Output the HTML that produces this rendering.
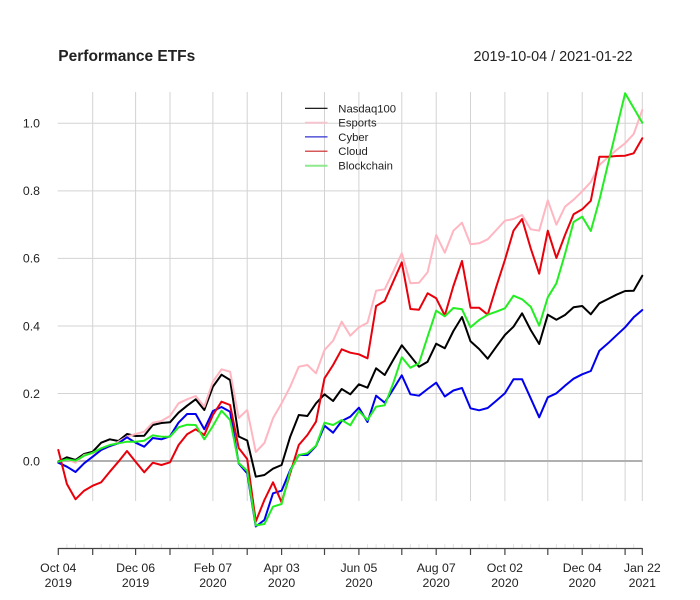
<!DOCTYPE html>
<html><head><meta charset="utf-8"><style>
html,body{margin:0;padding:0;background:#fff;}
svg{display:block;}
text{font-family:"Liberation Sans",Arial,sans-serif;fill:#222;}
</style></head><body>
<svg width="700" height="600" viewBox="0 0 700 600" xmlns="http://www.w3.org/2000/svg">
<rect width="700" height="600" fill="#fff"/>
<text x="58.3" y="61" font-size="15.5" font-weight="bold">Performance ETFs</text>
<text x="632.7" y="61" font-size="14.4" text-anchor="end">2019-10-04 / 2021-01-22</text>
<g stroke="#d3d3d3" stroke-width="1">
<line x1="92.7" y1="92" x2="92.7" y2="501"/>
<line x1="135.6" y1="92" x2="135.6" y2="501"/>
<line x1="170" y1="92" x2="170" y2="501"/>
<line x1="212.9" y1="92" x2="212.9" y2="501"/>
<line x1="247.2" y1="92" x2="247.2" y2="501"/>
<line x1="281.6" y1="92" x2="281.6" y2="501"/>
<line x1="324.5" y1="92" x2="324.5" y2="501"/>
<line x1="358.9" y1="92" x2="358.9" y2="501"/>
<line x1="401.8" y1="92" x2="401.8" y2="501"/>
<line x1="436.2" y1="92" x2="436.2" y2="501"/>
<line x1="470.5" y1="92" x2="470.5" y2="501"/>
<line x1="504.9" y1="92" x2="504.9" y2="501"/>
<line x1="547.8" y1="92" x2="547.8" y2="501"/>
<line x1="582.2" y1="92" x2="582.2" y2="501"/>
<line x1="625.1" y1="92" x2="625.1" y2="501"/>
<line x1="642.3" y1="92" x2="642.3" y2="501"/>
<line x1="57.7" y1="123.3" x2="642.3" y2="123.3"/>
<line x1="57.7" y1="190.9" x2="642.3" y2="190.9"/>
<line x1="57.7" y1="258.4" x2="642.3" y2="258.4"/>
<line x1="57.7" y1="326" x2="642.3" y2="326"/>
<line x1="57.7" y1="393.5" x2="642.3" y2="393.5"/>
</g>
<line x1="57.7" y1="461" x2="642.3" y2="461" stroke="#b0b0b0" stroke-width="2"/>
<g font-size="12.3" text-anchor="end" fill="#333">
<text x="40" y="127.6">1.0</text>
<text x="40" y="195.2">0.8</text>
<text x="40" y="262.7">0.6</text>
<text x="40" y="330.3">0.4</text>
<text x="40" y="397.8">0.2</text>
<text x="40" y="465.3">0.0</text>
</g>
<g fill="none" stroke-width="2" stroke-linejoin="round" stroke-linecap="round">
<polyline stroke="#000" points="58.3,461.7 66.9,457.3 75.5,460 84.1,454 92.7,451.7 101.2,442.7 109.8,439.3 118.4,441 127,434 135.6,436 144.2,435.7 152.8,425 161.4,423 170,422.3 178.5,412.7 187.1,405.7 195.7,399.3 204.3,410 212.9,386.7 221.5,374.7 230.1,380 238.7,436.5 247.2,440.5 255.8,476.7 264.4,475 273,468.7 281.6,465 290.2,436.7 298.8,415 307.4,416 316,403.3 324.5,394.3 333.1,401 341.7,389 350.3,394.3 358.9,384.3 367.5,387.7 376.1,368.3 384.7,375 393.2,360 401.8,345.3 410.4,356 419,366.7 427.6,361.7 436.2,343.7 444.8,348.3 453.4,331 462,317 470.5,341.3 479.1,349 487.7,358.7 496.3,346.7 504.9,335 513.5,326.7 522.1,313.3 530.7,330 539.2,344 547.8,314.7 556.4,319.7 565,315 573.6,307.3 582.2,306 590.8,314.3 599.4,303.3 608,299 616.5,294.7 625.1,291 633.7,290.7 642.3,275.7"/>
<polyline stroke="#ffb6c1" points="58.3,462.7 66.9,459.3 75.5,462.7 84.1,455 92.7,453.3 101.2,449.3 109.8,446.7 118.4,441.7 127,436.7 135.6,434 144.2,431.7 152.8,422.7 161.4,421 170,416 178.5,403.3 187.1,399.3 195.7,396 204.3,406.7 212.9,381.7 221.5,369.3 230.1,371.7 238.7,418 247.2,410 255.8,452 264.4,443 273,418.3 281.6,403.3 290.2,386.7 298.8,366.7 307.4,365 316,373.3 324.5,350 333.1,340.7 341.7,321.7 350.3,335.7 358.9,327.3 367.5,322.7 376.1,290.7 384.7,289.3 393.2,271.7 401.8,253.3 410.4,283.3 419,282.7 427.6,272.3 436.2,235 444.8,252.7 453.4,230.7 462,222.7 470.5,244.3 479.1,243.3 487.7,239.3 496.3,230 504.9,220.7 513.5,219 522.1,215 530.7,229.3 539.2,230.7 547.8,200.3 556.4,224.7 565,206.7 573.6,199.7 582.2,191.3 590.8,182 599.4,165 608,157.3 616.5,150 625.1,143.3 633.7,134 642.3,110"/>
<polyline stroke="#0000ee" points="58.3,462.7 66.9,466.7 75.5,472 84.1,463.3 92.7,456.7 101.2,450 109.8,446 118.4,443.3 127,437.3 135.6,442.7 144.2,446.7 152.8,438 161.4,439.3 170,436.3 178.5,422.7 187.1,414 195.7,414 204.3,429.3 212.9,411 221.5,407 230.1,411.7 238.7,463.5 247.2,473.3 255.8,526.5 264.4,520 273,493.3 281.6,490.7 290.2,470 298.8,455 307.4,455 316,446 324.5,425.7 333.1,432.7 341.7,421 350.3,416.7 358.9,407.7 367.5,422 376.1,395.7 384.7,402.7 393.2,389.3 401.8,375.3 410.4,394.3 419,395.7 427.6,389 436.2,382.7 444.8,396.5 453.4,390.5 462,388 470.5,408.3 479.1,410.3 487.7,408 496.3,400.7 504.9,393.3 513.5,379.3 522.1,379.3 530.7,398.3 539.2,417.3 547.8,397.3 556.4,393.3 565,385.7 573.6,378.7 582.2,374.3 590.8,371 599.4,350.7 608,343.3 616.5,335.3 625.1,327.3 633.7,317.3 642.3,310"/>
<polyline stroke="#e8000b" points="58.3,450 66.9,484 75.5,499.3 84.1,490.7 92.7,485.7 101.2,482.3 109.8,471.7 118.4,461.7 127,451 135.6,461.7 144.2,472.3 152.8,462.7 161.4,465 170,462.3 178.5,445 187.1,434.3 195.7,429.3 204.3,435 212.9,415 221.5,401.7 230.1,405 238.7,448 247.2,459 255.8,521.5 264.4,500 273,482.3 281.6,502.3 290.2,473.3 298.8,445 307.4,435 316,421.7 324.5,378.3 333.1,365 341.7,349.3 350.3,352.7 358.9,354.3 367.5,358.3 376.1,306 384.7,301 393.2,281.7 401.8,262.3 410.4,309 419,309.7 427.6,293.3 436.2,298.3 444.8,315.5 453.4,286 462,261 470.5,307.7 479.1,307.7 487.7,314.7 496.3,286.7 504.9,260 513.5,230.7 522.1,219 530.7,248.3 539.2,273.7 547.8,230.7 556.4,258 565,235 573.6,214.2 582.2,209.3 590.8,200.8 599.4,156.7 608,156.7 616.5,156 625.1,155.7 633.7,153.3 642.3,138.3"/>
<polyline stroke="#22ee22" points="58.3,461.7 66.9,459.3 75.5,460.7 84.1,455.7 92.7,452.7 101.2,448.3 109.8,445 118.4,443.3 127,441.7 135.6,441.7 144.2,440.7 152.8,435.3 161.4,436.7 170,436.7 178.5,427.3 187.1,424.7 195.7,425 204.3,439.3 212.9,426 221.5,410.7 230.1,420 238.7,463 247.2,471 255.8,525.5 264.4,524 273,506.7 281.6,504 290.2,471 298.8,455 307.4,453.3 316,445.7 324.5,422.7 333.1,425 341.7,420 350.3,425.3 358.9,411 367.5,420 376.1,406.7 384.7,405.3 393.2,383.3 401.8,357.3 410.4,367.7 419,363.3 427.6,336.7 436.2,310.7 444.8,316.3 453.4,308 462,309.3 470.5,327.3 479.1,320 487.7,314.7 496.3,311.7 504.9,308.3 513.5,295.7 522.1,299.3 530.7,306.7 539.2,325.7 547.8,297.3 556.4,283.3 565,254 573.6,222 582.2,216.7 590.8,231 599.4,200 608,164 616.5,129 625.1,93.3 633.7,108 642.3,122.7"/>
</g>
<g stroke-width="1.2">
<line x1="305" y1="108.3" x2="327.5" y2="108.3" stroke="#000"/>
<line x1="305" y1="122.7" x2="327.5" y2="122.7" stroke="#f6c6cf" stroke-width="2"/>
<line x1="305" y1="136.9" x2="327.5" y2="136.9" stroke="#3030d0"/>
<line x1="305" y1="151.2" x2="327.5" y2="151.2" stroke="#c82020"/>
<line x1="305" y1="165.7" x2="327.5" y2="165.7" stroke="#8ee88e" stroke-width="2"/>
</g>
<g font-size="11.3" fill="#222">
<text x="338.3" y="112.3">Nasdaq100</text>
<text x="338.3" y="126.7">Esports</text>
<text x="338.3" y="140.9">Cyber</text>
<text x="338.3" y="155.2">Cloud</text>
<text x="338.3" y="169.7">Blockchain</text>
</g>
<g stroke="#e4e4e4" stroke-width="1">
<path d="M66.9 544V548M75.5 544V548M84.1 544V548M101.2 544V548M109.8 544V548M118.4 544V548M127 544V548M144.2 544V548M152.8 544V548M161.4 544V548M178.5 544V548M187.1 544V548M195.7 544V548M204.3 544V548M221.5 544V548M230.1 544V548M238.7 544V548M255.8 544V548M264.4 544V548M273 544V548M290.2 544V548M298.8 544V548M307.4 544V548M316 544V548M333.1 544V548M341.7 544V548M350.3 544V548M367.5 544V548M376.1 544V548M384.7 544V548M393.2 544V548M410.4 544V548M419 544V548M427.6 544V548M444.8 544V548M453.4 544V548M462 544V548M479.1 544V548M487.7 544V548M496.3 544V548M513.5 544V548M522.1 544V548M530.7 544V548M539.2 544V548M556.4 544V548M565 544V548M573.6 544V548M590.8 544V548M599.4 544V548M608 544V548M616.5 544V548M633.7 544V548"/>
</g>
<g stroke="#444" stroke-width="1.2">
<line x1="58.3" y1="548.5" x2="642.3" y2="548.5"/>
<path d="M58.3 548V555M92.7 548V555M135.6 548V555M170 548V555M212.9 548V555M247.2 548V555M281.6 548V555M324.5 548V555M358.9 548V555M401.8 548V555M436.2 548V555M470.5 548V555M504.9 548V555M547.8 548V555M582.2 548V555M625.1 548V555M642.3 548V555"/>
</g>
<g font-size="12.3" text-anchor="middle" fill="#333">
<text x="58.3" y="572">Oct 04</text><text x="58.3" y="587">2019</text>
<text x="135.6" y="572">Dec 06</text><text x="135.6" y="587">2019</text>
<text x="212.9" y="572">Feb 07</text><text x="212.9" y="587">2020</text>
<text x="281.6" y="572">Apr 03</text><text x="281.6" y="587">2020</text>
<text x="358.9" y="572">Jun 05</text><text x="358.9" y="587">2020</text>
<text x="436.2" y="572">Aug 07</text><text x="436.2" y="587">2020</text>
<text x="504.9" y="572">Oct 02</text><text x="504.9" y="587">2020</text>
<text x="582.2" y="572">Dec 04</text><text x="582.2" y="587">2020</text>
<text x="642.3" y="572">Jan 22</text><text x="642.3" y="587">2021</text>
</g>
</svg>
</body></html>
